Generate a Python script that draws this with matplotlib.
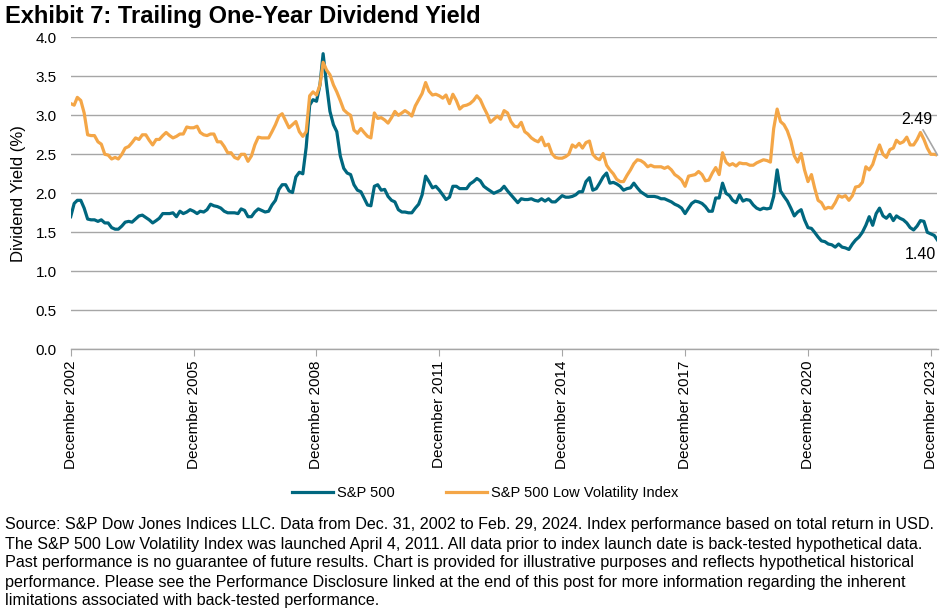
import matplotlib
matplotlib.use("Agg")
import matplotlib.pyplot as plt
import pandas as pd

plt.rcParams['font.family'] = ['Liberation Sans', 'DejaVu Sans']

dates = pd.date_range("2002-12-31", "2024-02-29", freq="ME")

sp500 = [
    1.70, 1.87, 1.91, 1.91, 1.81, 1.67, 1.66, 1.66, 1.64, 1.66,
    1.62, 1.62, 1.56, 1.54, 1.54, 1.58, 1.63, 1.64, 1.63, 1.67,
    1.71, 1.72, 1.69, 1.66, 1.62, 1.65, 1.68, 1.74, 1.74, 1.74,
    1.75, 1.70, 1.77, 1.74, 1.76, 1.79, 1.77, 1.74, 1.77, 1.76,
    1.79, 1.86, 1.84, 1.83, 1.81, 1.77, 1.75, 1.75, 1.75, 1.74,
    1.80, 1.78, 1.70, 1.70, 1.76, 1.80, 1.78, 1.76, 1.77, 1.85,
    1.91, 2.05, 2.11, 2.11, 2.03, 2.01, 2.21, 2.27, 2.25, 2.59,
    3.13, 3.20, 3.18, 3.39, 3.79, 3.39, 3.05, 2.88, 2.79, 2.48,
    2.32, 2.26, 2.24, 2.11, 2.04, 2.02, 1.94, 1.85, 1.84, 2.09,
    2.11, 2.04, 2.05, 1.96, 1.91, 1.89, 1.79, 1.76, 1.76, 1.75,
    1.75, 1.81, 1.86, 1.98, 2.22, 2.15, 2.07, 2.09, 2.04, 1.98,
    1.92, 1.95, 2.09, 2.09, 2.06, 2.06, 2.06, 2.12, 2.15, 2.19,
    2.16, 2.09, 2.06, 2.03, 2.00, 2.02, 2.04, 2.09, 2.03, 1.98,
    1.93, 1.88, 1.93, 1.92, 1.92, 1.93, 1.91, 1.90, 1.93, 1.90,
    1.93, 1.89, 1.89, 1.93, 1.97, 1.95, 1.95, 1.96, 1.98, 2.02,
    2.02, 2.15, 2.20, 2.04, 2.06, 2.13, 2.21, 2.26, 2.13, 2.14,
    2.12, 2.09, 2.04, 2.06, 2.07, 2.13, 2.07, 2.02, 1.99, 1.96,
    1.96, 1.96, 1.95, 1.93, 1.93, 1.91, 1.89, 1.86, 1.84, 1.81,
    1.74, 1.81, 1.87, 1.90, 1.89, 1.87, 1.83, 1.77, 1.77, 1.94,
    1.94, 2.13, 2.00, 1.97, 1.91, 1.88, 1.98, 1.90, 1.92, 1.91,
    1.85, 1.81, 1.79, 1.81, 1.80, 1.81, 1.96, 2.30, 2.03, 1.96,
    1.90, 1.81, 1.71, 1.76, 1.79, 1.66, 1.56, 1.55, 1.50, 1.44,
    1.39, 1.38, 1.35, 1.34, 1.31, 1.35, 1.31, 1.30, 1.28, 1.35,
    1.40, 1.44, 1.50, 1.59, 1.70, 1.59, 1.74, 1.81, 1.71, 1.68,
    1.73, 1.65, 1.71, 1.68, 1.66, 1.62, 1.56, 1.53, 1.58, 1.65,
    1.64, 1.50, 1.48, 1.46, 1.40,
]

low_vol = [
    3.15, 3.13, 3.23, 3.19, 3.03, 2.75, 2.74, 2.74, 2.66, 2.63,
    2.50, 2.49, 2.44, 2.46, 2.44, 2.50, 2.58, 2.60, 2.65, 2.71,
    2.69, 2.75, 2.75, 2.68, 2.62, 2.69, 2.69, 2.74, 2.78, 2.74,
    2.71, 2.73, 2.76, 2.76, 2.85, 2.84, 2.84, 2.86, 2.78, 2.75,
    2.74, 2.76, 2.76, 2.66, 2.66, 2.60, 2.52, 2.52, 2.46, 2.44,
    2.50, 2.50, 2.41, 2.48, 2.62, 2.72, 2.71, 2.71, 2.71, 2.79,
    2.88, 2.99, 3.02, 2.93, 2.84, 2.88, 2.92, 2.79, 2.73, 2.79,
    3.25, 3.30, 3.26, 3.39, 3.68, 3.58, 3.52, 3.39, 3.30, 3.19,
    3.07, 3.03, 3.00, 2.81, 2.77, 2.83, 2.78, 2.73, 2.71, 3.03,
    2.96, 2.97, 2.94, 2.90, 2.97, 3.05, 3.00, 3.03, 3.06, 3.03,
    2.99, 3.12, 3.20, 3.28, 3.42, 3.31, 3.26, 3.27, 3.25, 3.22,
    3.26, 3.15, 3.27, 3.19, 3.08, 3.12, 3.13, 3.15, 3.19, 3.25,
    3.20, 3.10, 3.02, 2.91, 2.95, 2.99, 2.95, 3.06, 3.03, 2.92,
    2.86, 2.85, 2.91, 2.79, 2.76, 2.71, 2.68, 2.66, 2.72, 2.61,
    2.63, 2.51, 2.46, 2.45, 2.45, 2.47, 2.50, 2.62, 2.59, 2.64,
    2.58, 2.65, 2.67, 2.50, 2.45, 2.43, 2.51, 2.36, 2.30, 2.25,
    2.18, 2.15, 2.15, 2.23, 2.30, 2.38, 2.43, 2.42, 2.39, 2.34,
    2.36, 2.34, 2.34, 2.34, 2.32, 2.34, 2.30, 2.24, 2.21, 2.17,
    2.09, 2.22, 2.23, 2.24, 2.28, 2.24, 2.16, 2.17, 2.26, 2.33,
    2.24, 2.52, 2.40, 2.36, 2.38, 2.35, 2.39, 2.38, 2.38, 2.36,
    2.36, 2.39, 2.41, 2.43, 2.42, 2.40, 2.83, 3.08, 2.92, 2.88,
    2.80, 2.67, 2.48, 2.40, 2.51, 2.30, 2.15, 2.24, 2.07, 1.91,
    1.88, 1.80, 1.82, 1.81, 1.88, 1.97, 1.95, 1.97, 1.91, 1.97,
    2.08, 2.09, 2.14, 2.34, 2.30, 2.37, 2.51, 2.62, 2.50, 2.46,
    2.56, 2.58, 2.68, 2.64, 2.66, 2.72, 2.62, 2.62, 2.69, 2.78,
    2.69, 2.58, 2.50, 2.50, 2.49,
]

tick_years = [2002, 2005, 2008, 2011, 2014, 2017, 2020, 2023]
tick_labels = [f"December {y}" for y in tick_years]
y_ticks = [0.0, 0.5, 1.0, 1.5, 2.0, 2.5, 3.0, 3.5, 4.0]

title = "Exhibit 7: Trailing One-Year Dividend Yield"
notes = [
    "Source: S&P Dow Jones Indices LLC. Data from Dec. 31, 2002 to Feb. 29, 2024. Index performance based on total return in USD.",
    "The S&P 500 Low Volatility Index was launched April 4, 2011. All data prior to index launch date is back-tested hypothetical data.",
    "Past performance is no guarantee of future results. Chart is provided for illustrative purposes and reflects hypothetical historical",
    "performance. Please see the Performance Disclosure linked at the end of this post for more information regarding the inherent",
    "limitations associated with back-tested performance.",
]

BLUE = "#00677F"
ORANGE = "#F4A647"
GRID = "#A6A6A6"

W, H = 943, 613
fig = plt.figure(figsize=(W / 100, H / 100), dpi=100)
ax = fig.add_axes([70.7 / W, 1 - 349.3 / H, (937.5 - 70.7) / W, 312 / H])

ax.plot(dates, sp500, color=BLUE, lw=2.3, label="S&P 500", solid_joinstyle="round")
ax.plot(dates, low_vol, color=ORANGE, lw=2.3, label="S&P 500 Low Volatility Index",
        solid_joinstyle="round")

ax.set_xlim(dates[0], dates[-1])
ax.set_ylim(0, 4.0)
ax.set_yticks(y_ticks)
ax.set_yticklabels([f"{v:.1f}" for v in y_ticks])
ax.yaxis.grid(True, color=GRID, lw=1)
ax.set_axisbelow(True)
for s in ["left", "right", "top"]:
    ax.spines[s].set_visible(False)
ax.spines["bottom"].set_color(GRID)
ax.spines["bottom"].set_linewidth(1)
ax.spines["bottom"].set_zorder(0.5)

tick_dates = [pd.Timestamp(f"{y}-12-31") for y in tick_years]
ax.set_xticks(tick_dates)
ax.set_xticklabels(tick_labels, rotation=90, va="top", ha="center")
ax.tick_params(axis="x", length=5, color=GRID, pad=3, labelsize=11)
ax.tick_params(axis="y", length=0, pad=10, labelsize=11)
ax.set_ylabel("Dividend Yield (%)", fontsize=12, labelpad=7)

# end-point labels
ax.annotate("2.49", xy=(dates[-1], low_vol[-1]), xytext=(dates[-7], 2.85),
            ha="center", va="bottom", fontsize=11.5,
            arrowprops=dict(arrowstyle="-", color=GRID, lw=1.2, shrinkA=0, shrinkB=0))
ax.annotate("1.40", xy=(dates[-1], sp500[-1]), xytext=(dates[-6], 1.22),
            ha="center", va="center", fontsize=11.5)

fig.text(5 / W, 1 - 16 / H, title, fontsize=17, fontweight="bold", va="center", ha="left")

fig.legend(loc="center", bbox_to_anchor=(485 / W, 1 - 493 / H), ncol=2, frameon=False,
           fontsize=10.5, handlelength=2.8, columnspacing=3.5, handletextpad=0.3)

for i, line in enumerate(notes):
    fig.text(5 / W, 1 - (525 + 19 * i) / H, line, fontsize=11.6, va="center", ha="left")

fig.savefig("out.png", dpi=100)
